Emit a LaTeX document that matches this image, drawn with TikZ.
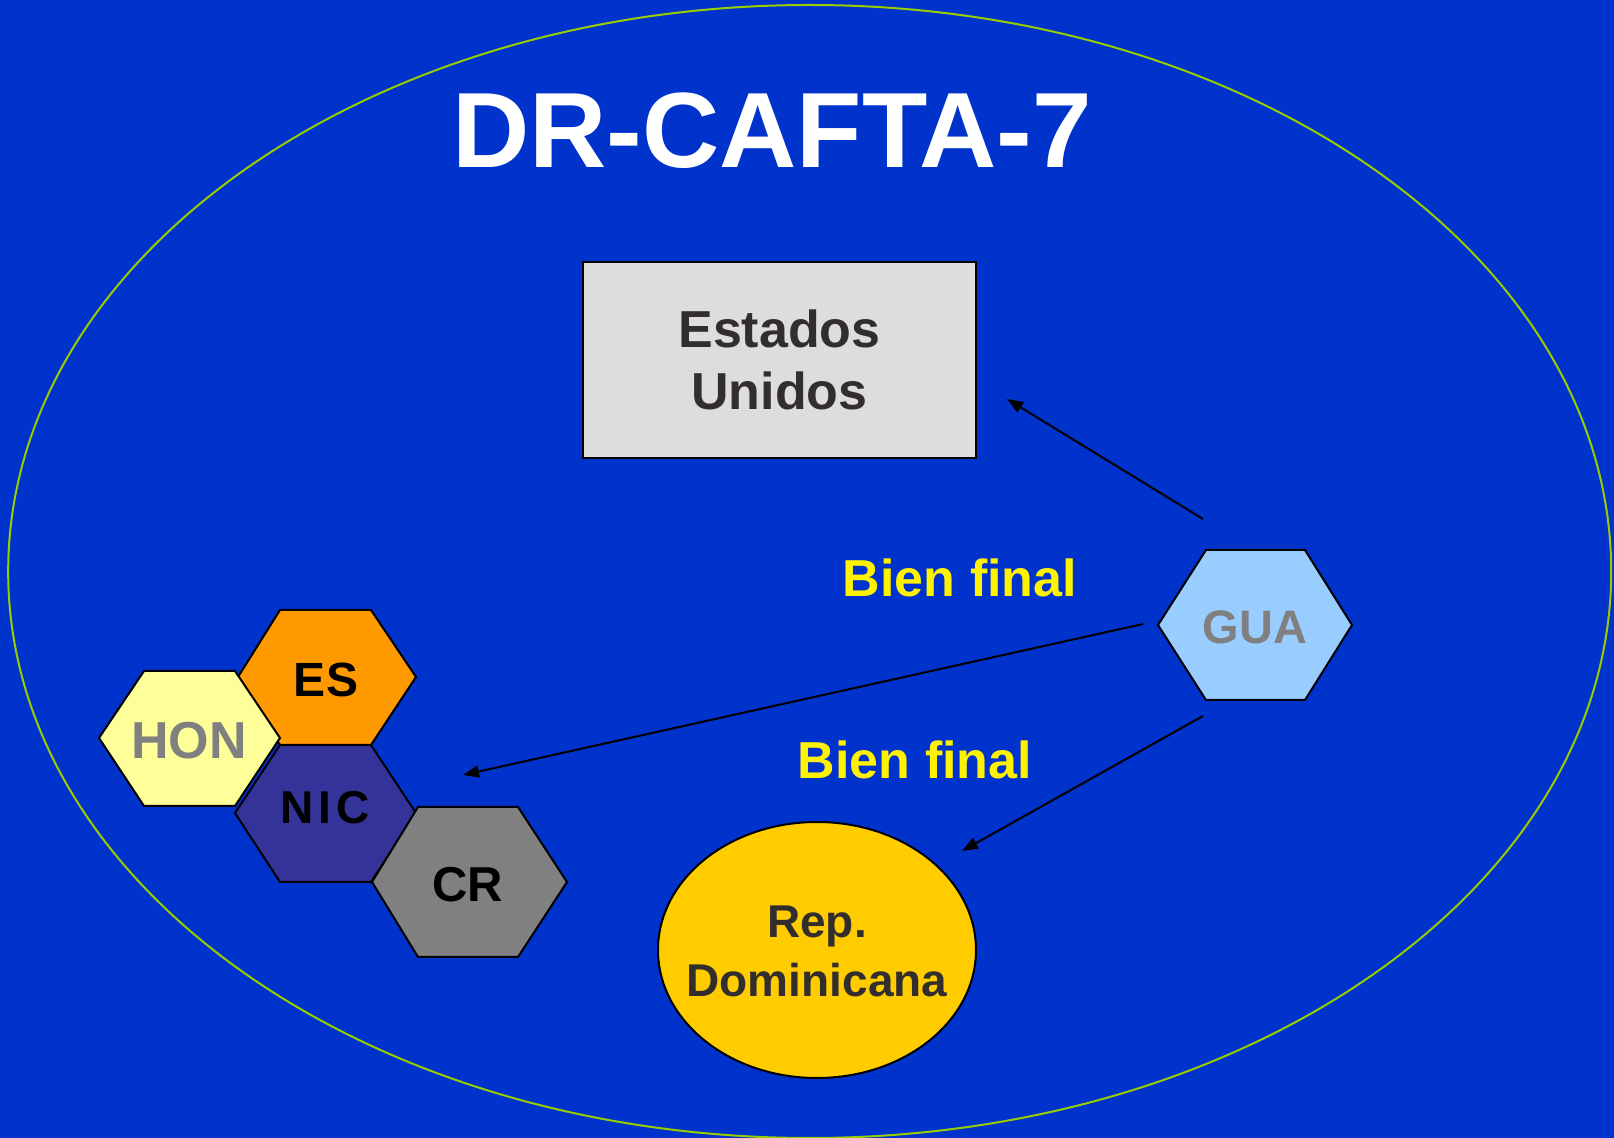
\documentclass[tikz,border=0pt]{standalone}
\usepackage{fontspec}
\setmainfont{Liberation Sans}
\usetikzlibrary{arrows.meta,shapes.geometric}
\definecolor{bg}{HTML}{0033CC}
\definecolor{rim}{HTML}{99CC00}
\definecolor{darktxt}{HTML}{332E2E}
\definecolor{boxfill}{HTML}{DDDDDD}
\definecolor{esfill}{HTML}{FF9900}
\definecolor{honfill}{HTML}{FFFF99}
\definecolor{nicfill}{HTML}{333399}
\definecolor{crfill}{HTML}{808080}
\definecolor{guafill}{HTML}{99CCFF}
\definecolor{repfill}{HTML}{FFCC00}
\definecolor{graytxt}{HTML}{808080}
\begin{document}
\begin{tikzpicture}[x=0.5pt,y=-0.5pt,
  hexshape/.style={draw=black,line width=1pt,line join=miter},
  hexlbl/.style={inner sep=0pt},
  flowarrow/.style={draw=black,line width=1pt,-{Triangle[length=8pt,width=6pt]}},
  bienlbl/.style={anchor=base,text=yellow,font=\fontsize{26pt}{30pt}\selectfont\bfseries,inner sep=0pt}]
\fill[bg] (0,0) rectangle (1614,1138);
\useasboundingbox (0,0) rectangle (1614,1138);
\draw[rim,line width=1pt] (809.7,571.5) ellipse [x radius=400.75pt, y radius=283.25pt];
% title
\node[anchor=base,text=white,inner sep=0pt,font=\fontsize{53.5pt}{60pt}\selectfont\bfseries] (title) at (772,168) {DR-CAFTA-7};
% Estados Unidos box
\node[draw=black,line width=1pt,fill=boxfill,minimum width=196.5pt,minimum height=98pt,inner sep=0pt,
  align=center,text=darktxt,font=\fontsize{26pt}{31pt}\selectfont\bfseries] (us) at (779.5,360) {Estados\\Unidos};
% Rep. Dominicana
\filldraw[draw=black,line width=1pt,fill=repfill] (817,950) ellipse [x radius=79.5pt, y radius=64pt];
\node[inner sep=0pt,align=center,text=darktxt,font=\fontsize{23pt}{29.5pt}\selectfont\bfseries] (rd) at (817,951) {Rep.\\Dominicana};
% hexagons
\filldraw[hexshape,fill=nicfill] (235,813) -- (280,745) -- (371,745) -- (416,813) -- (371,882) -- (280,882) -- cycle;
\filldraw[hexshape,fill=esfill] (238,677) -- (280,610) -- (371,610) -- (416,677) -- (371,745) -- (280,745) -- cycle;
\filldraw[hexshape,fill=honfill] (99,738) -- (144,671) -- (235,671) -- (280,738) -- (235,806) -- (144,806) -- cycle;
\filldraw[hexshape,fill=crfill] (372,882) -- (418,807) -- (518,807) -- (567,882) -- (518,957) -- (418,957) -- cycle;
\filldraw[hexshape,fill=guafill] (1158,625) -- (1206,550) -- (1305,550) -- (1352,625) -- (1305,700) -- (1206,700) -- cycle;
\node[hexlbl,text=black,font=\fontsize{24pt}{28pt}\selectfont\bfseries] (es) at (326,680) {ES};
\node[hexlbl,text=graytxt,font=\fontsize{26pt}{30pt}\selectfont\bfseries] (hon) at (189,741) {HON};
\node[hexlbl,text=black,font=\fontsize{23pt}{28pt}\selectfont\bfseries] (nic) at (325,808) {N\kern2.5pt I\kern2.5pt C};
\node[hexlbl,text=black,font=\fontsize{24.5pt}{28pt}\selectfont\bfseries] (cr) at (468,885) {CR};
\node[hexlbl,text=graytxt,font=\fontsize{23.5pt}{28pt}\selectfont\bfseries] (gua) at (1255,627) {GUA};
% labels
\node[bienlbl] (bf1) at (960,597) {Bien final};
\node[bienlbl] (bf2) at (915,779) {Bien final};
% arrows
\coordinate (a1s) at (1203,519);
\coordinate (a1e) at (1007,399);
\coordinate (a2s) at (1143,624);
\coordinate (a2e) at (463,775);
\coordinate (a3s) at (1203,716);
\coordinate (a3e) at (962,851);
\draw[flowarrow] (a1s) -- (a1e);
\draw[flowarrow] (a2s) -- (a2e);
\draw[flowarrow] (a3s) -- (a3e);
\end{tikzpicture}
\end{document}
